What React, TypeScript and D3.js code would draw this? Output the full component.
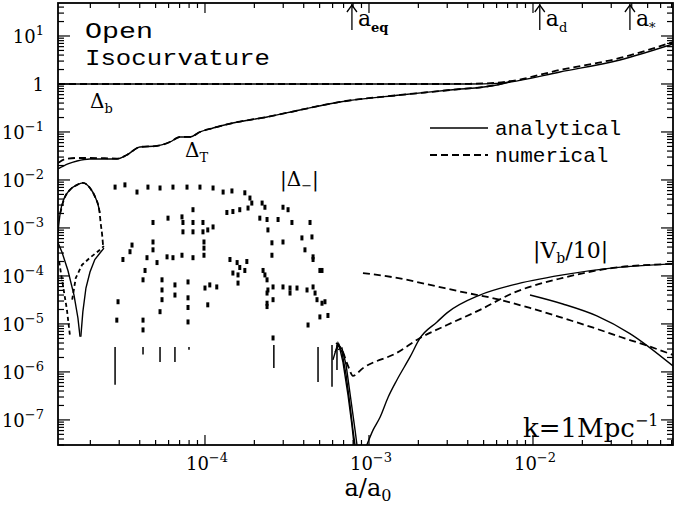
import React from "react";
import * as d3 from "d3";

const W = 675;
const H = 505;

// Axis ranges (a/a0 horizontally, amplitude vertically)
const X_DOMAIN: [number, number] = [1.27e-5, 7.14e-2];
const Y_DOMAIN: [number, number] = [48.7, 3.0e-8];

const xMajorTicks = [1e-4, 1e-3, 1e-2];
const xMajorExps = ["−4", "−3", "−2"];
const yMajorTicks = [10, 1, 1e-1, 1e-2, 1e-3, 1e-4, 1e-5, 1e-6, 1e-7];
const yMajorExps = ["1", "", "−1", "−2", "−3", "−4", "−5", "−6", "−7"];

// Epoch markers
const epochs = [
  { a: 7.87e-4, base: "a", sub: "eq" },
  { a: 1.1e-2, base: "a", sub: "d" },
  { a: 3.9e-2, base: "a", sub: "*" },
];

// Delta_b
const deltaBSolid: [number, number][] = [
  [1.27e-5, 1.0], [1e-4, 1.0], [1e-3, 1.0], [3.1e-3, 1.0], [4.13e-3, 1.0],
  [6.03e-3, 1.03], [7.24e-3, 1.1], [1.46e-2, 1.78], [3.39e-2, 3.16], [7.14e-2, 6.8],
];
const deltaBDashed: [number, number][] = [
  [1.27e-5, 1.0], [1e-4, 1.0], [1e-3, 1.0], [3.1e-3, 1.0], [4.13e-3, 1.01],
  [6.03e-3, 1.06], [7.24e-3, 1.14], [1.46e-2, 1.96], [3.39e-2, 3.48], [7.14e-2, 7.5],
];

// Delta_T
const deltaTSolid: [number, number][] = [
  [1.27e-5, 0.017], [1.46e-5, 0.0216], [1.66e-5, 0.0249], [1.99e-5, 0.0274],
  [2.45e-5, 0.0274], [2.9e-5, 0.0274], [3.34e-5, 0.0332], [4.01e-5, 0.0487],
  [5.09e-5, 0.0511], [6.12e-5, 0.0619], [7.05e-5, 0.0787], [8.11e-5, 0.0787],
  [9.33e-5, 0.1], [1.12e-4, 0.121], [1.48e-4, 0.154], [2.39e-4, 0.205],
  [3.79e-4, 0.287], [6.65e-4, 0.422], [1.55e-3, 0.59], [3.12e-3, 0.75],
  [6.03e-3, 0.953], [7.24e-3, 1.1],
];
const deltaTDashed: [number, number][] = [
  [1.27e-5, 0.0226], [1.42e-5, 0.0274], [1.66e-5, 0.0287], [1.99e-5, 0.0287],
  [2.45e-5, 0.0284], [2.9e-5, 0.0279], [3.34e-5, 0.0332], [4.01e-5, 0.0487],
  [5.09e-5, 0.0511], [6.12e-5, 0.0619], [7.05e-5, 0.0787], [8.11e-5, 0.0787],
  [9.33e-5, 0.1], [1.12e-4, 0.121], [1.48e-4, 0.154], [2.39e-4, 0.205],
  [3.79e-4, 0.287], [6.65e-4, 0.422], [1.55e-3, 0.59], [3.12e-3, 0.75],
  [6.03e-3, 0.97], [7.24e-3, 1.14],
];

// Early |Delta_-| hump
const humpSolid: [number, number][] = [
  [1.27e-5, 8.3e-4], [1.31e-5, 2.05e-3], [1.38e-5, 4.0e-3], [1.5e-5, 6.2e-3],
  [1.66e-5, 7.9e-3], [1.8e-5, 8.7e-3], [1.99e-5, 6.8e-3], [2.13e-5, 4.6e-3],
  [2.23e-5, 3.0e-3], [2.29e-5, 2.05e-3],
];
const humpDashed: [number, number][] = [
  [1.31e-5, 2.0e-3], [1.38e-5, 3.9e-3], [1.5e-5, 6.2e-3], [1.66e-5, 7.9e-3],
  [1.8e-5, 8.7e-3], [1.99e-5, 6.8e-3], [2.15e-5, 4.2e-3], [2.26e-5, 2.5e-3],
  [2.32e-5, 1.15e-3], [2.36e-5, 7.15e-4], [2.39e-5, 4.4e-4],
];

// Early zero crossing (two branches each)
const dipSolidLeft: [number, number][] = [
  [1.27e-5, 4.9e-4], [1.34e-5, 3.2e-4], [1.46e-5, 1.3e-4], [1.59e-5, 4.0e-5],
  [1.68e-5, 1.33e-5], [1.73e-5, 5.4e-6],
];
const dipSolidRight: [number, number][] = [
  [1.75e-5, 5.4e-6], [1.8e-5, 1.78e-5], [1.88e-5, 5.6e-5], [1.99e-5, 1.21e-4],
  [2.13e-5, 2.2e-4], [2.29e-5, 3.0e-4], [2.42e-5, 3.8e-4],
];
const dipDashedLeft: [number, number][] = [
  [1.29e-5, 2.0e-4], [1.36e-5, 6.5e-5], [1.44e-5, 1.96e-5], [1.5e-5, 5.9e-6],
];
const dipDashedRight: [number, number][] = [
  [1.55e-5, 3.2e-5], [1.63e-5, 9.1e-5], [1.78e-5, 1.7e-4], [1.99e-5, 2.4e-4],
  [2.29e-5, 3.5e-4], [2.42e-5, 4.2e-4],
];

// Numerical |Delta_-| in the oscillating regime (sampled points)
const minusDots: [number, number][] = [
  [2.83e-5, 7.1e-3], [3.25e-5, 7.9e-3], [3.85e-5, 5.6e-3], [4.49e-5, 7.1e-3],
  [5.32e-5, 6.8e-3], [6.38e-5, 7.1e-3], [7.77e-5, 7.1e-3], [9.32e-5, 7.1e-3],
  [1.12e-4, 6.8e-3], [1.29e-4, 5.6e-3], [1.46e-4, 5.9e-3], [1.75e-4, 5.4e-3],
  [1.88e-4, 4.2e-3], [2.23e-4, 3.3e-3], [2.32e-4, 2.7e-3], [2.99e-4, 2.7e-3],
  [3.21e-4, 2.4e-3], [1.36e-4, 2.1e-3], [1.48e-4, 2.2e-3], [1.63e-4, 2.4e-3],
  [1.83e-4, 2.6e-3], [1.93e-4, 3.3e-3], [2.16e-4, 1.6e-3], [2.39e-4, 1.5e-3],
  [2.79e-4, 1.5e-3], [3.39e-4, 1.3e-3], [2.42e-4, 9.1e-4], [2.56e-4, 4.9e-4],
  [2.99e-4, 5.1e-4], [3.9e-4, 6.2e-4], [4.49e-4, 6.5e-4], [4.07e-4, 3.5e-4],
  [4.56e-4, 2.5e-4], [4.56e-4, 2.2e-4], [5.02e-4, 1.3e-4], [4.37e-4, 1.3e-3],
  [4.82e-5, 1.3e-3], [5.95e-5, 1.6e-3], [7.24e-5, 1.7e-3], [7.34e-5, 1.3e-3],
  [7.34e-5, 8.3e-4], [8.45e-5, 2.4e-3], [8.45e-5, 1.3e-3], [8.45e-5, 8.3e-4],
  [9.72e-5, 1.3e-3], [9.72e-5, 8.3e-4], [9.86e-5, 5.1e-4], [9.86e-5, 3.8e-4],
  [9.86e-5, 2.7e-4], [1.04e-4, 9.1e-4], [1.12e-4, 1.05e-3], [3.59e-5, 4.4e-4],
  [3.49e-5, 3.2e-4], [3.16e-5, 2.2e-4], [4.43e-5, 2.4e-4], [4.82e-5, 5.1e-4],
  [4.82e-5, 3.5e-4], [5.87e-5, 2.5e-4], [6.38e-5, 2.4e-4], [7.24e-5, 2.7e-4],
  [8.45e-5, 2.4e-4], [5.1e-5, 1.9e-4], [4.31e-5, 1.3e-4], [4.19e-5, 8.3e-5],
  [5.47e-5, 8.3e-5], [6.56e-5, 6.5e-5], [7.88e-5, 7.5e-5], [1.0e-4, 5.6e-5],
  [1.07e-4, 6.5e-5], [1.18e-4, 5.9e-5], [1.42e-4, 2.2e-4], [1.57e-4, 1.9e-4],
  [1.63e-4, 1.5e-4], [1.8e-4, 2.0e-4], [1.75e-4, 1.3e-4], [1.48e-4, 1.15e-4],
  [1.59e-4, 1.05e-4], [1.59e-4, 7.1e-5], [2.26e-4, 1.3e-4], [2.32e-4, 1.05e-4],
  [2.39e-4, 8.3e-5], [2.56e-4, 2.7e-4], [2.42e-4, 5.1e-5], [2.39e-4, 4.4e-5],
  [2.6e-4, 5.9e-5], [2.99e-4, 5.9e-5], [3.3e-4, 5.6e-5], [3.64e-4, 5.6e-5],
  [4.19e-4, 5.1e-5], [4.69e-4, 4.4e-5], [4.82e-4, 3.2e-5], [5.17e-4, 2.7e-5],
  [5.39e-4, 2.9e-5], [5.17e-4, 1.3e-4], [4.56e-4, 5.9e-5], [2.95e-5, 2.9e-5],
  [5.47e-5, 5.1e-5], [5.47e-5, 3.2e-5], [5.32e-5, 1.8e-5], [6.56e-5, 4.0e-5],
  [7.88e-5, 3.5e-5], [7.88e-5, 2.2e-5], [7.88e-5, 1.1e-5], [1.04e-4, 2.5e-5],
  [2.39e-4, 2.7e-5], [2.39e-4, 2.3e-5], [2.6e-4, 3.2e-5], [3.3e-4, 4.4e-5],
  [4.25e-4, 9.5e-6], [5.02e-4, 1.4e-5], [5.62e-4, 1.5e-5], [2.9e-5, 1.2e-5],
  [4.19e-5, 1.2e-5], [4.19e-5, 7.5e-6], [2.6e-4, 5.1e-6],
];

// Analytical |Delta_-| near its zeros: [a, low, high]
const minusSticks: [number, number, number][] = [
  [2.83e-5, 5.4e-7, 3.3e-6], [4.19e-5, 2.3e-6, 3.3e-6], [5.32e-5, 1.6e-6, 3.3e-6],
  [6.56e-5, 1.6e-6, 3.3e-6], [7.99e-5, 2.9e-6, 3.3e-6], [2.63e-4, 1.2e-6, 3.65e-6],
  [4.89e-4, 6.2e-7, 3.3e-6], [5.95e-4, 4.9e-7, 3.65e-6], [6.38e-4, 1.1e-6, 3.65e-6],
];

// Damped oscillations near a_eq
const dampA: [number, number][] = [
  [6.03e-4, 1.78e-6], [6.47e-4, 4.0e-6], [6.84e-4, 2.6e-6], [7.25e-4, 8.7e-7],
  [7.66e-4, 2.05e-7], [7.98e-4, 6.2e-8], [8.22e-4, 3.0e-8],
];
const dampB: [number, number][] = [
  [6.21e-4, 2.6e-6], [6.56e-4, 3.65e-6], [6.94e-4, 1.6e-6], [7.45e-4, 3.3e-7],
  [7.87e-4, 7.9e-8], [8.11e-4, 3.0e-8],
];
const dampC: [number, number][] = [
  [6.47e-4, 2.9e-6], [6.84e-4, 3.16e-6], [7.25e-4, 1.4e-6], [7.76e-4, 2.6e-7],
  [8.22e-4, 6.2e-8], [8.45e-4, 3.0e-8],
];

// |V_b/10|
const vbSolid: [number, number][] = [
  [9.46e-4, 2.4e-8], [1.06e-3, 6.2e-8], [1.17e-3, 1.15e-7], [1.31e-3, 3.0e-7],
  [1.48e-3, 6.8e-7], [1.78e-3, 2.05e-6], [2.05e-3, 5.1e-6], [2.6e-3, 1.1e-5],
  [2.99e-3, 1.7e-5], [4.75e-3, 4.0e-5], [7.55e-3, 6.5e-5], [1.52e-2, 1.05e-4],
  [3.08e-2, 1.47e-4], [7.14e-2, 1.78e-4],
];
const vbDashed: [number, number][] = [
  [6.3e-4, 4.0e-6], [6.84e-4, 2.9e-6], [7.45e-4, 1.33e-6], [7.98e-4, 8.3e-7],
  [9.19e-4, 1.2e-6], [1.48e-3, 2.5e-6], [2.05e-3, 5.1e-6], [2.99e-3, 9.5e-6],
  [4.75e-3, 1.96e-5], [7.55e-3, 4.4e-5], [1.52e-2, 9.1e-5], [3.08e-2, 1.47e-4],
  [7.14e-2, 1.78e-4],
];

// Late |Delta_-|
const lateMinusDashed: [number, number][] = [
  [9.19e-4, 1.15e-4], [1.48e-3, 9.1e-5], [2.36e-3, 6.5e-5], [3.74e-3, 4.6e-5],
  [6.03e-3, 3.3e-5], [9.59e-3, 2.15e-5], [1.52e-2, 1.33e-5], [2.45e-2, 7.9e-6],
  [3.39e-2, 5.4e-6], [4.82e-2, 3.65e-6], [7.14e-2, 2.26e-6],
];
const lateMinusSolid: [number, number][] = [
  [9.59e-3, 4.0e-5], [1.52e-2, 2.6e-5], [2.45e-2, 1.47e-5], [3.9e-2, 6.3e-6],
  [7.14e-2, 1.33e-6],
];

const SERIF = "'DejaVu Serif', serif";
const MONO = "'Liberation Mono', monospace";

export default function App() {
  const x = d3.scaleLog().domain(X_DOMAIN).range([58, 673]);
  const y = d3.scaleLog().domain(Y_DOMAIN).range([3, 445]);
  const [x0, x1] = x.range();
  const [y0, y1] = y.range();

  const line = d3
    .line<[number, number]>()
    .x((d) => x(d[0]))
    .y((d) => y(d[1]))
    .curve(d3.curveMonotoneX);
  const lineLin = d3
    .line<[number, number]>()
    .x((d) => x(d[0]))
    .y((d) => y(d[1]));

  // minor ticks: 2..9 within each decade
  const xMinor: number[] = [];
  for (let e = -5; e <= -1; e++)
    for (let m = 2; m <= 9; m++) {
      const v = m * Math.pow(10, e);
      if (v > X_DOMAIN[0] && v < X_DOMAIN[1]) xMinor.push(v);
    }
  const yMinor: number[] = [];
  for (let e = -8; e <= 1; e++)
    for (let m = 2; m <= 9; m++) {
      const v = m * Math.pow(10, e);
      if (v > Y_DOMAIN[1] && v < Y_DOMAIN[0]) yMinor.push(v);
    }

  const solid = { fill: "none", stroke: "#000", strokeWidth: 1.4 };
  const dashed = { ...solid, strokeWidth: 1.8, strokeDasharray: "7,4" };

  return (
    <svg
      width={W}
      height={H}
      style={{ position: "absolute", left: 0, top: 0, background: "#fff" }}
    >
      <defs>
        <clipPath id="plot">
          <rect x={x0} y={y0} width={x1 - x0} height={y1 - y0} />
        </clipPath>
      </defs>
      <rect width={W} height={H} fill="#fff" />

      {/* ticks */}
      <g stroke="#000" strokeWidth={1.2}>
        {xMajorTicks.map((t) => (
          <g key={"xM" + t}>
            <line x1={x(t)} x2={x(t)} y1={y1} y2={y1 - 10} />
            <line x1={x(t)} x2={x(t)} y1={y0} y2={y0 + 10} />
          </g>
        ))}
        {xMinor.map((t) => (
          <g key={"xm" + t}>
            <line x1={x(t)} x2={x(t)} y1={y1} y2={y1 - 5} />
            <line x1={x(t)} x2={x(t)} y1={y0} y2={y0 + 5} />
          </g>
        ))}
        {yMajorTicks.map((t) => (
          <g key={"yM" + t}>
            <line x1={x0} x2={x0 + 12} y1={y(t)} y2={y(t)} />
            <line x1={x1} x2={x1 - 12} y1={y(t)} y2={y(t)} />
          </g>
        ))}
        {yMinor.map((t) => (
          <g key={"ym" + t}>
            <line x1={x0} x2={x0 + 6} y1={y(t)} y2={y(t)} />
            <line x1={x1} x2={x1 - 6} y1={y(t)} y2={y(t)} />
          </g>
        ))}
      </g>

      {/* tick labels */}
      <g fontFamily={SERIF} fontSize={18} fill="#000">
        {yMajorTicks.map((t, i) => (
          <text key={"yl" + t} x={44} y={y(t) + 7} textAnchor="end">
            {yMajorExps[i] === "" ? "1" : "10"}
            {yMajorExps[i] !== "" && (
              <tspan fontSize={13} dy={-8}>
                {yMajorExps[i]}
              </tspan>
            )}
          </text>
        ))}
        {xMajorTicks.map((t, i) => (
          <text key={"xl" + t} x={x(t) + 2} y={470} textAnchor="middle">
            10
            <tspan fontSize={13} dy={-8}>
              {xMajorExps[i]}
            </tspan>
          </text>
        ))}
      </g>
      <text x={368} y={496} textAnchor="middle" fontFamily={SERIF} fontSize={24}>
        a/a
        <tspan fontSize={16} dy={5}>
          0
        </tspan>
      </text>

      {/* curves */}
      <g clipPath="url(#plot)">
        <path d={line(deltaBSolid) ?? ""} {...solid} />
        <path d={line(deltaBDashed) ?? ""} {...dashed} />
        <path d={line(deltaTSolid) ?? ""} {...solid} />
        <path d={line(deltaTDashed) ?? ""} {...dashed} />
        <path d={line(humpSolid) ?? ""} {...solid} />
        <path d={line(humpDashed) ?? ""} {...dashed} strokeDasharray="5,3" />
        <path d={lineLin(dipSolidLeft) ?? ""} {...solid} />
        <path d={lineLin(dipSolidRight) ?? ""} {...solid} />
        <path d={lineLin(dipDashedLeft) ?? ""} {...dashed} strokeDasharray="4,3" />
        <path d={lineLin(dipDashedRight) ?? ""} {...dashed} strokeDasharray="4,3" />
        {minusDots.map((d, i) => (
          <rect
            key={"d" + i}
            x={x(d[0]) - 1.5}
            y={y(d[1]) - 2.5}
            width={3}
            height={5}
            fill="#000"
          />
        ))}
        {minusSticks.map((d, i) => (
          <line
            key={"s" + i}
            x1={x(d[0])}
            x2={x(d[0])}
            y1={y(d[1])}
            y2={y(d[2])}
            stroke="#000"
            strokeWidth={1.5}
          />
        ))}
        <path d={lineLin(dampA) ?? ""} {...solid} />
        <path d={lineLin(dampB) ?? ""} {...solid} />
        <path d={lineLin(dampC) ?? ""} {...solid} />
        <path d={line(vbSolid) ?? ""} {...solid} />
        <path d={line(vbDashed) ?? ""} {...dashed} />
        <path d={line(lateMinusDashed) ?? ""} {...dashed} />
        <path d={line(lateMinusSolid) ?? ""} {...solid} />
      </g>

      {/* frame */}
      <rect
        x={x0}
        y={y0}
        width={x1 - x0}
        height={y1 - y0}
        fill="none"
        stroke="#000"
        strokeWidth={1.8}
      />

      {/* epoch arrows */}
      {epochs.map((e) => {
        const px = x(e.a);
        return (
          <g key={e.sub}>
            <line x1={px} x2={px} y1={y0 + 1} y2={30} stroke="#000" strokeWidth={1.3} />
            <path
              d={`M${px - 5},${y0 + 9} L${px},${y0 + 2} L${px + 5},${y0 + 9}`}
              fill="none"
              stroke="#000"
              strokeWidth={1.3}
            />
            <text x={px + 6} y={26} fontFamily={SERIF} fontSize={22}>
              a
              <tspan fontSize={13} dy={6} fontWeight={e.sub === "eq" ? "bold" : "normal"}>
                {e.sub}
              </tspan>
            </text>
          </g>
        );
      })}

      {/* annotations */}
      <g fontFamily={MONO} fontSize={22}>
        <text x={85} y={38} textLength={68} lengthAdjust="spacingAndGlyphs">
          Open
        </text>
        <text x={85} y={65} textLength={185} lengthAdjust="spacingAndGlyphs">
          Isocurvature
        </text>
      </g>
      <g fontFamily={SERIF} fontSize={20}>
        <text x={90} y={108}>
          Δ<tspan fontSize={13} dy={5}>b</tspan>
        </text>
        <text x={185} y={157}>
          Δ<tspan fontSize={13} dy={5}>T</tspan>
        </text>
        <text x={280} y={186}>
          |Δ<tspan fontSize={13} dy={4}>−</tspan>
          <tspan dy={-4}>|</tspan>
        </text>
        <text x={533} y={258} fontSize={22}>
          |V<tspan fontSize={14} dy={5}>b</tspan>
          <tspan dy={-5}>/10|</tspan>
        </text>
        <text x={523} y={437} fontSize={26}>
          k=1Mpc<tspan fontSize={16} dy={-11}>−1</tspan>
        </text>
      </g>

      {/* legend */}
      <line x1={430} x2={488} y1={128} y2={128} stroke="#000" strokeWidth={1.4} />
      <line
        x1={430}
        x2={488}
        y1={155}
        y2={155}
        stroke="#000"
        strokeWidth={1.8}
        strokeDasharray="7,4"
      />
      <g fontFamily={MONO} fontSize={21}>
        <text x={495} y={135}>analytical</text>
        <text x={495} y={162}>numerical</text>
      </g>
    </svg>
  );
}
